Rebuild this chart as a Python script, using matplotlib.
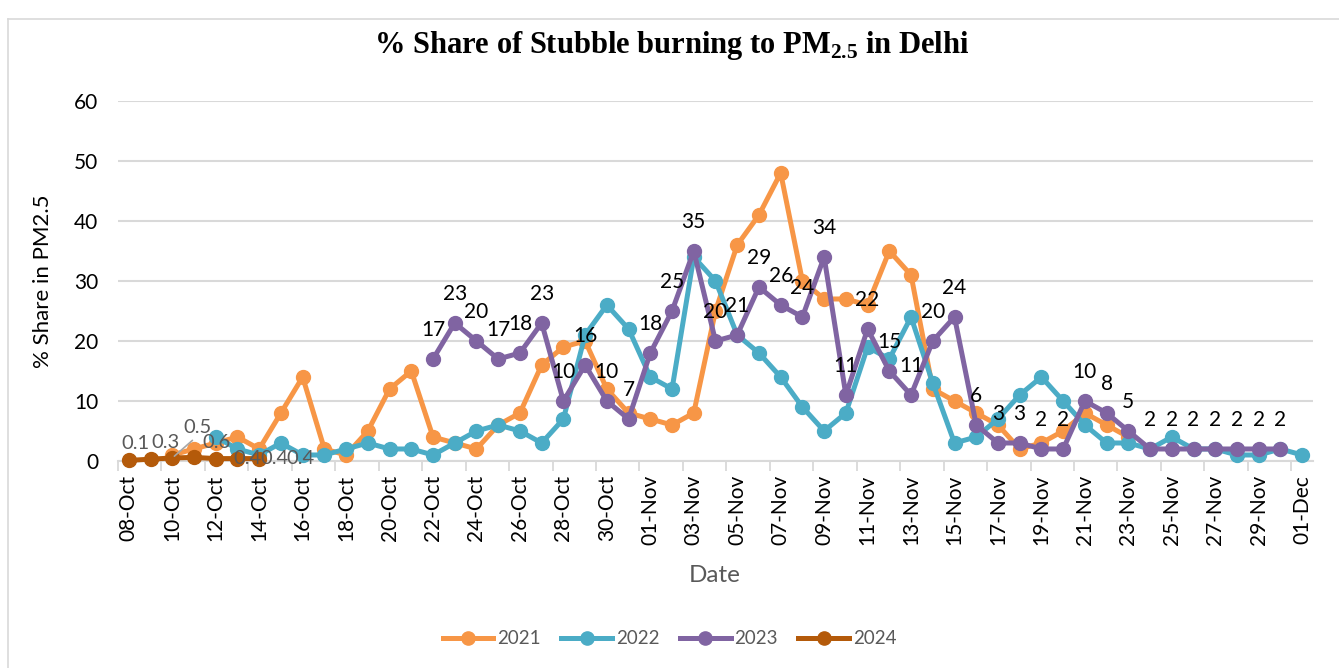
import numpy as np
import pandas as pd
import matplotlib
matplotlib.use("Agg")
import matplotlib.pyplot as plt
from matplotlib.lines import Line2D

plt.rcParams['font.family'] = ['Lato', 'DejaVu Sans']

nan = np.nan
# category axis: one point per day
dates = list(pd.date_range('2021-10-08', '2021-12-01').strftime('%d-%b'))

y2021 = [nan, nan, 1, 2, 3, 4, 2, 8, 14, 2, 1, 5, 12, 15, 4, 3, 2, 6, 8, 16,
         19, 20, 12, 8, 7, 6, 8, 25, 36, 41, 48, 30, 27, 27, 26, 35, 31, 12, 10, 8,
         6, 2, 3, 5, 8, 6, 4] + [nan] * 8
y2022 = [nan] * 4 + [4, 2, 1, 3, 1, 1, 2, 3, 2, 2, 1, 3, 5, 6, 5, 3, 7, 21, 26, 22,
                     14, 12, 34, 30, 21, 18, 14, 9, 5, 8, 19, 17, 24, 13, 3, 4, 7, 11, 14, 10,
                     6, 3, 3, 2, 4, 2, 2, 1, 1, 2, 1]
y2023 = [nan] * 14 + [17, 23, 20, 17, 18, 23, 10, 16, 10, 7, 18, 25, 35, 20, 21, 29, 26, 24, 34, 11,
                      22, 15, 11, 20, 24, 6, 3, 3, 2, 2, 10, 8, 5, 2, 2, 2, 2, 2, 2, 2] + [nan]
y2024 = [0.1, 0.3, 0.5, 0.6, 0.4, 0.4, 0.4] + [nan] * 48

series = [('2021', y2021, '#F79646'), ('2022', y2022, '#4BACC6'),
          ('2023', y2023, '#8064A2'), ('2024', y2024, '#B45A0A')]

fig = plt.figure(figsize=(13.39, 6.68), dpi=100)
ax = fig.add_axes([0.0881, 0.3099, 0.8925, 0.5389])

x = np.arange(len(dates))
for name, vals, col in series:
    ax.plot(x, vals, color=col, lw=3.6, marker='o', ms=10, mfc=col, mec=col,
            clip_on=False, zorder=3, label=name)

# data labels, 2023 above the points
for i, v in enumerate(y2023):
    if not np.isnan(v):
        ax.annotate(str(int(v)), (i, v), xytext=(0, 21), textcoords='offset points',
                    ha='center', va='center', fontsize=15, color='black', zorder=5)

# 2024 labels crowd together near the axis (they overlap in the original too)
offs24 = [(5, 12), (11, 12), (18, 22), (16, 11), (23, 0), (27, 0), (30, 0)]
for i, v in enumerate(y2024):
    if not np.isnan(v):
        dx, dy = offs24[i]
        ax.annotate(str(v), (i, v), xytext=(dx, dy), textcoords='offset points',
                    ha='center', va='center', fontsize=14.5, color='#595959', zorder=5)
ax.annotate('', (2, y2024[2]), xytext=(16, 14), textcoords='offset points',
            arrowprops=dict(arrowstyle='-', color='#A6A6A6', lw=1.2), zorder=4)

ax.set_xlim(-0.5, len(dates) - 0.5)
ax.set_ylim(0, 60)
ax.set_yticks(range(0, 61, 10))
ax.set_xticks(x[::2])
ax.set_xticklabels(dates[::2], rotation=90, fontsize=15)
ax.set_xticks(np.arange(-0.5, len(dates), 2), minor=True)
ax.tick_params(axis='x', which='major', length=0, pad=10)
ax.tick_params(axis='x', which='minor', length=7, color='#D9D9D9', width=1.3)
ax.tick_params(axis='y', length=0, pad=14, labelsize=15)
ax.grid(axis='y', color='#D9D9D9', lw=1.5)
ax.set_axisbelow(True)
for s in ['top', 'right', 'left']:
    ax.spines[s].set_visible(False)
ax.spines['bottom'].set_color('#D9D9D9')
ax.spines['bottom'].set_linewidth(1.5)

ax.set_ylabel('% Share in PM2.5', fontsize=16)
ax.yaxis.set_label_coords(-0.0544, 0.5)
ax.set_xlabel('Date', fontsize=17.5, color='#595959')
ax.xaxis.set_label_coords(0.4996, -0.289)

fig.text(0.502, 1 - 46 / 668, r'% Share of Stubble burning to PM$_\mathregular{2.5}$ in Delhi',
         ha='center', va='center', fontsize=22, fontweight='bold', family='Liberation Serif')

fig.legend(loc='center', bbox_to_anchor=(0.5, 0.044), ncol=4, frameon=False,
           fontsize=13.5, labelcolor='#595959', handlelength=2.7, columnspacing=1.1,
           handletextpad=0.2, markerscale=0.95)

# chart area border
fig.add_artist(Line2D([8 / 1339, 8 / 1339], [0, 1 - 19 / 668], transform=fig.transFigure,
                      color='#D9D9D9', lw=1.2))
fig.add_artist(Line2D([8 / 1339, 1], [1 - 19 / 668, 1 - 19 / 668], transform=fig.transFigure,
                      color='#D9D9D9', lw=1.2))

fig.savefig('out.png', dpi=100)
